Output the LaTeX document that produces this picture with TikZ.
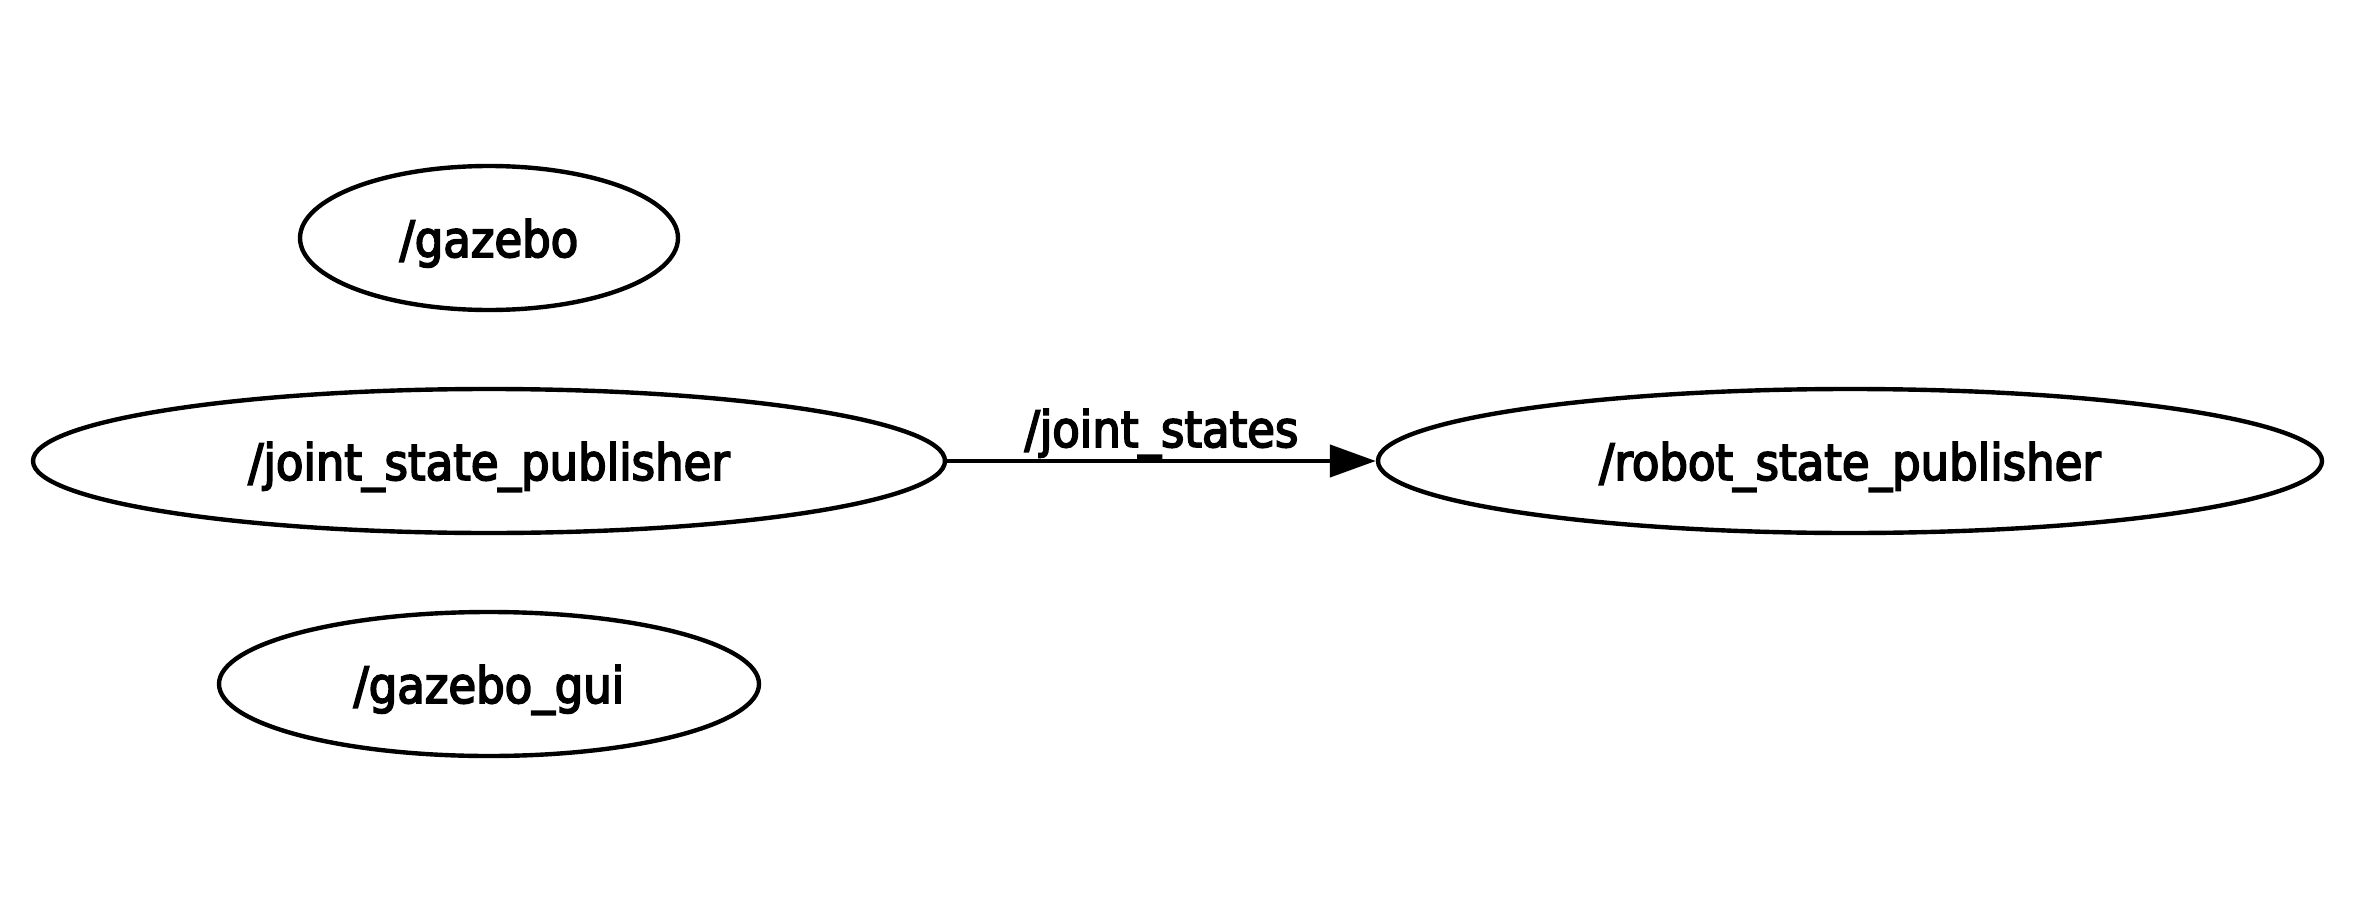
\documentclass[tikz,border=0pt]{standalone}
\usepackage{fontspec}
\setmainfont[FakeBold=3.5]{DejaVu Sans Condensed}
\usepackage{tikz}
\usetikzlibrary{shapes.geometric}
\usetikzlibrary{arrows.meta}

\tikzset{
	rosnode/.style={draw,ellipse,line width=2.2pt,inner sep=0pt,minimum height=72pt,text depth=0pt},
	topic/.style={line width=2.2pt,-{Triangle[length=23pt,width=16pt]}}
}

\begin{document}
\begin{tikzpicture}[x=1pt,y=1pt,font=\fontsize{25}{30}\selectfont]
			\useasboundingbox (0,0) rectangle (1178,-460);
			
			\node[rosnode,minimum width=189pt] (gz) at (244.5,-119) {/gazebo};
			\node[rosnode,minimum width=456pt] (jsp) at (244.5,-230.5) {/joint\_state\_publisher};
			\node[rosnode,minimum width=270pt] (gui) at (244.5,-342) {/gazebo\_gui};
			\node[rosnode,minimum width=472pt] (rsp) at (925,-230.5) {/robot\_state\_publisher};
			
			\draw[topic] (jsp) -- (rsp) node[midway,above,inner sep=0pt]{/joint\_states};
		\end{tikzpicture}
\end{document}
